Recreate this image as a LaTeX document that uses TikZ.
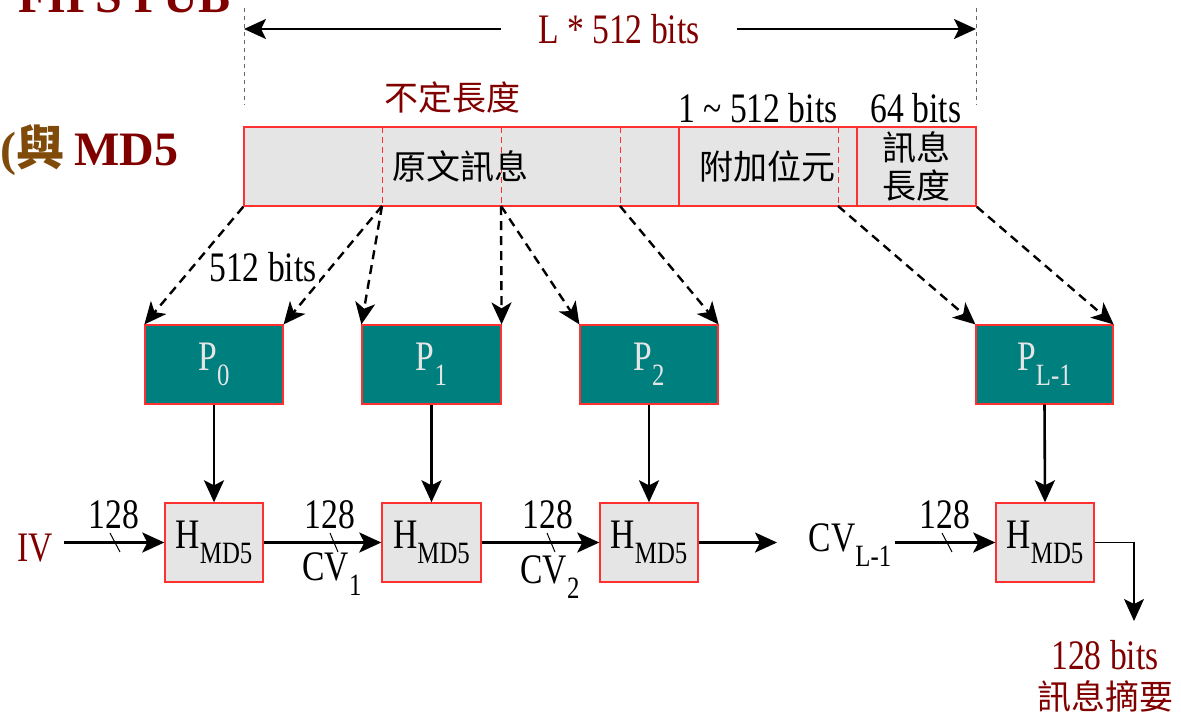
\documentclass[tikz,border=0pt]{standalone}
\usepackage{fontspec}
\setmainfont{Liberation Serif}
\newfontfamily\cond[FakeStretch=0.8]{Liberation Serif}
\newfontfamily\cjk{Noto Sans CJK TC}
\usetikzlibrary{arrows.meta}
\definecolor{dred}{HTML}{800000}
\definecolor{brownc}{HTML}{7F4A0A}
\definecolor{tealc}{HTML}{007F7F}
\definecolor{boxgray}{HTML}{E5E5E5}
\definecolor{bred}{HTML}{FF3030}
\newcommand\mysub[1]{\raisebox{-0.35em}{\fontsize{15.5}{15.5}\selectfont #1}}
\begin{document}
\begin{tikzpicture}[x=0.5pt,y=-0.5pt,
 lbl/.style={font=\cond\fontsize{21}{21}\selectfont, inner sep=0pt},
 cj/.style={font=\cjk\fontsize{17}{17}\selectfont, inner sep=0pt},
 graybox/.style={draw=bred, line width=0.7pt, fill=boxgray},
 pbox/.style={draw=bred, line width=0.6pt, fill=tealc, minimum height=39.5pt, inner sep=0pt, text=white!90!black, font=\cond\fontsize{21}{21}\selectfont},
 hbox/.style={graybox, minimum height=39.5pt, minimum width=49pt, inner sep=0pt, font=\cond\fontsize{21}{21}\selectfont},
 arr/.style={line width=1.3pt, -{Stealth[length=11pt,width=10pt,inset=2.5pt]}},
 darr/.style={line width=1.2pt, dash pattern=on 4.5pt off 3pt, -{Stealth[length=11pt,width=10pt,inset=3pt]}},
 slash/.style={line width=0.5pt},
 divs/.style={draw=bred, line width=0.7pt},
 ddivs/.style={draw=bred, line width=0.5pt, dash pattern=on 3pt off 2pt},
 guide/.style={draw=gray!80!black, line width=0.5pt, dash pattern=on 2pt off 2pt},
]
\useasboundingbox (0,0) rectangle (1181,713);

% title fragments
\node[anchor=base west, inner sep=0, font=\fontsize{24}{24}\selectfont\bfseries, text=dred] (fips) at (18,12) {FIPS PUB};
\node[anchor=base west, inner sep=0, font=\fontsize{24}{24}\selectfont\bfseries] (ttl) at (0,165) {\textcolor{brownc}{({\cjk 與}}\hspace{5pt}\textcolor{dred}{MD5}};

% top dimension
\draw[guide] (244,8) -- (244,105);
\draw[guide] (976,8) -- (976,105);
\coordinate (lend) at (244,29);
\coordinate (rend) at (976,29);
\node[lbl, text=dred, minimum width=118pt] (lab) at (619,29) {L * 512 bits};
\draw[arr] (lab.west) -- (lend);
\draw[arr] (lab.east) -- (rend);

\node[cj, text=dred] (undef) at (452,98) {不定長度};
\node[lbl] (pad) at (758,108) {1 \textasciitilde{} 512 bits};
\node[lbl] (len) at (916,108) {64 bits};

% message bar
\node[graybox, minimum width=366pt, minimum height=39.5pt, inner sep=0pt] (bar) at (610,166.5) {};
\draw[divs] (679,127) -- (679,206);
\draw[divs] (857,127) -- (857,206);
\draw[ddivs] (382,127) -- (382,206);
\draw[ddivs] (501,127) -- (501,206);
\draw[ddivs] (620,127) -- (620,206);
\draw[ddivs] (838,127) -- (838,206);
\node[cj] (orig) at (460,166) {原文訊息};
\node[cj] (padb) at (767,166) {附加位元};
\node[cj, align=center, font=\cjk\fontsize{17}{19}\selectfont] (lenb) at (916,166) {訊息\\長度};

\coordinate (b1) at (382,206);
\coordinate (b2) at (501,206);
\coordinate (b3) at (620,206);
\coordinate (b4) at (838,206);

% P boxes
\node[pbox, minimum width=69pt] (P0) at (214,364.5) {P\mysub{0}};
\node[pbox, minimum width=69.5pt] (P1) at (431.5,364.5) {P\mysub{1}};
\node[pbox, minimum width=69pt] (P2) at (649,364.5) {P\mysub{2}};
\node[pbox, minimum width=68.5pt] (PL) at (1044.5,364.5) {P\mysub{L-1}};

\draw[darr] (bar.south west) -- (P0.north west);
\draw[darr] (b1) -- (P0.north east);
\draw[darr] (b1) -- (P1.north west);
\draw[darr] (b2) -- (P1.north east);
\draw[darr] (b2) -- (P2.north west);
\draw[darr] (b3) -- (P2.north east);
\draw[darr] (b4) -- (PL.north west);
\draw[darr] (bar.south east) -- (PL.north east);
\node[lbl, fill=white, inner sep=1pt] (blk) at (263,267) {512 bits};

% H boxes
\node[hbox] (H1) at (214,542.5) {H\mysub{MD5}};
\node[hbox, minimum width=49.5pt] (H2) at (431.5,542.5) {H\mysub{MD5}};
\node[hbox] (H3) at (649,542.5) {H\mysub{MD5}};
\node[hbox] (H4) at (1045,542.5) {H\mysub{MD5}};

\draw[arr] (P0.south) -- (H1.north);
\draw[arr] (P1.south) -- (H2.north);
\draw[arr] (P2.south) -- (H3.north);
\draw[arr] (PL.south) -- (H4.north);

% chaining
\node[lbl, text=dred] (iv) at (35,548) {IV};
\coordinate (ivo) at (64,542.5);
\draw[arr] (ivo) -- (H1.west);
\draw[arr] (H1.east) -- (H2.west);
\draw[arr] (H2.east) -- (H3.west);
\coordinate (h3o) at (777,542.5);
\draw[arr] (H3.east) -- (h3o);
\node[lbl] (cvl) at (850,545) {CV\mysub{L-1}};
\coordinate (cvo) at (895,542.5);
\draw[arr] (cvo) -- (H4.west);

\draw[slash] (110,533) -- (120,552);
\draw[slash] (330,533) -- (338,552);
\draw[slash] (547,533) -- (555,552);
\draw[slash] (942,533) -- (952,552);
\node[lbl] (n1) at (114,515) {128};
\node[lbl] (n2) at (330,515) {128};
\node[lbl] (n3) at (548,515) {128};
\node[lbl] (n4) at (945,515) {128};
\node[lbl] (cv1) at (332,574) {CV\mysub{1}};
\node[lbl] (cv2) at (550,577) {CV\mysub{2}};

% output
\coordinate (oc) at (1134,542.5);
\coordinate (oe) at (1134,621);
\draw[line width=0.6pt, -{Stealth[length=11pt,width=10pt,inset=2.5pt]}] (H4.east) -- (oc) -- (oe);
\node[lbl, text=dred] (ob) at (1105,655) {128 bits};
\node[cj, text=dred] (om) at (1105,696) {訊息摘要};
\end{tikzpicture}
\end{document}
